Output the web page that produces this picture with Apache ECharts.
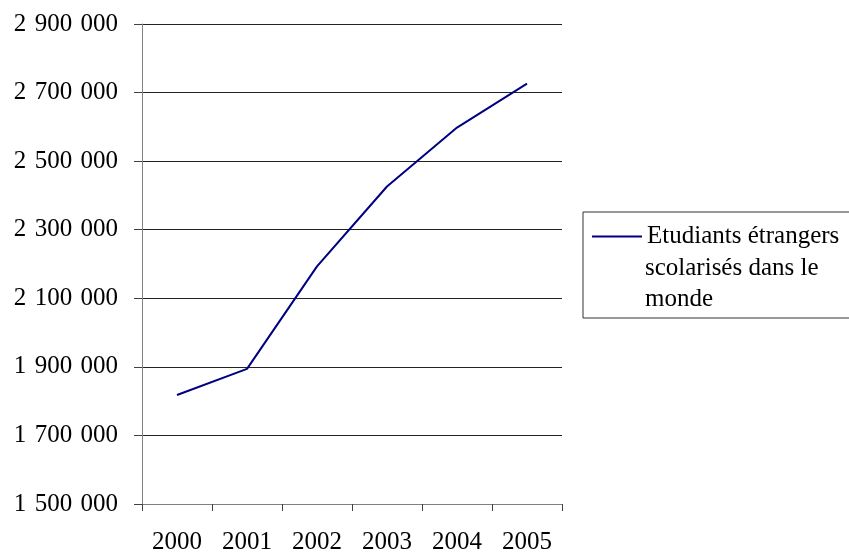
<!DOCTYPE html>
<html>
<head>
<meta charset="utf-8">
<script src="https://cdn.jsdelivr.net/npm/echarts@6/dist/echarts.min.js"></script>
<style>
  html, body { margin: 0; padding: 0; background: #fff; }
  #chart { width: 849px; height: 555px; }
</style>
</head>
<body>
<div id="chart"></div>
<script>
// data
const years = ["2000", "2001", "2002", "2003", "2004", "2005"];
const students = [1818000, 1894000, 2193000, 2426000, 2598000, 2726000];
const seriesName = "Etudiants étrangers";
const legendRest = "scolarisés dans le\nmonde";

const font = "'Liberation Serif', 'Times New Roman', serif";

// "2900000" -> "2 900 000" (three-per-em spaces, a bit wider than a normal one)
function spaced(v) {
  return String(v).replace(/\B(?=(\d{3})+(?!\d))/g, "\u2004");
}

const myChart = echarts.init(document.getElementById("chart"), null, { renderer: "canvas" });

const option = {
  backgroundColor: "#fff",
  animation: false,
  grid: { left: 142, right: 287, top: 24, bottom: 50, containLabel: false },
  xAxis: {
    type: "category",
    data: years,
    boundaryGap: true,
    axisLine: { lineStyle: { color: "#808080", width: 1 } },
    axisTick: { show: true, length: 7, lineStyle: { color: "#404040" } },
    axisLabel: { color: "#000", fontFamily: font, fontSize: 25, margin: 26 },
    splitLine: { show: false },
  },
  yAxis: {
    type: "value",
    min: 1500000,
    max: 2900000,
    interval: 200000,
    axisLine: { show: true, lineStyle: { color: "#808080", width: 1 } },
    axisTick: { show: true, length: 8, lineStyle: { color: "#404040" } },
    axisLabel: { color: "#000", fontFamily: font, fontSize: 25, margin: 24, formatter: spaced },
    splitLine: { show: true, lineStyle: { color: "#222", width: 1 } },
  },
  legend: {
    left: 583,
    top: 212,
    orient: "vertical",
    icon: "rect",
    itemWidth: 50,
    itemHeight: 2,
    padding: [9, 30, 66, 9],
    borderColor: "#333",
    borderWidth: 1,
    itemStyle: { color: "#000080" },
    textStyle: { color: "#000", fontFamily: font, fontSize: 25, lineHeight: 31 },
    data: [seriesName],
  },
  // rest of the wrapped legend label
  graphic: [
    {
      type: "text",
      left: 645,
      top: 253,
      style: { text: legendRest, fill: "#000", font: "25px " + font, lineHeight: 31 },
    },
  ],
  series: [
    {
      name: seriesName,
      type: "line",
      data: students,
      symbol: "none",
      lineStyle: { color: "#000080", width: 2 },
      itemStyle: { color: "#000080" },
    },
  ],
};

option && myChart.setOption(option);
</script>
</body>
</html>
